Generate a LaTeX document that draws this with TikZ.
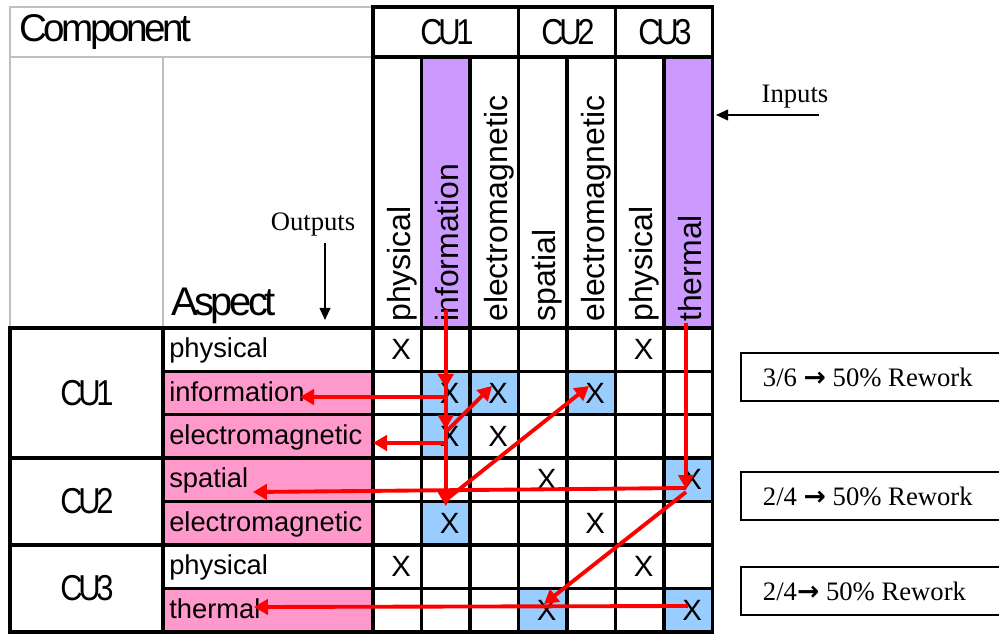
\documentclass[tikz,border=0pt]{standalone}
\usepackage{fontspec}
\setmainfont{Liberation Serif}
\newfontfamily\labelfont{Liberation Sans}
\newfontfamily\tightfont{Liberation Sans}[LetterSpace=-9]
\newfontfamily\cufont{Liberation Sans}[FakeStretch=0.86,LetterSpace=-12]
\newfontfamily\arrowfont{DejaVu Sans}
\usetikzlibrary{arrows.meta}
\definecolor{pinkcell}{HTML}{FF99CC}
\definecolor{bluecell}{HTML}{99CCFF}
\definecolor{purplecell}{HTML}{CC99FF}
\definecolor{gridgray}{HTML}{C0C0C0}
\definecolor{flowred}{HTML}{FF0000}

\begin{document}
\begin{tikzpicture}[x=0.75pt,y=-0.75pt,
  gridline/.style={line width=2.3pt, line cap=rect},
  blockline/.style={line width=2.9pt, line cap=rect},
  grayline/.style={line width=1.6pt, draw=gridgray},
  flow/.style={draw=flowred, line width=2.9pt, -{Triangle[length=10.5pt,width=11.5pt]}},
  pointer/.style={draw=black, line width=1.4pt, -{Triangle[length=9pt,width=8pt]}},
  xmark/.style={font=\labelfont\fontsize{22}{22}\selectfont, inner sep=0pt},
  rowlabel/.style={font=\labelfont\fontsize{20.5}{22}\selectfont, anchor=base west, inner sep=0pt},
  collabel/.style={font=\labelfont\fontsize{24}{26}\selectfont, rotate=90, anchor=base west, inner sep=0pt},
  cutitle/.style={font=\cufont\fontsize{27}{28}\selectfont, inner sep=0pt},
  note/.style={font=\fontsize{20}{22}\selectfont, inner sep=0pt},
  reworkbox/.style={draw, line width=1.5pt, minimum width=205pt, minimum height=36pt, anchor=north west, inner sep=0pt},
]
\useasboundingbox (0,0) rectangle (999,634);

% ---- cell fills ----
\fill[purplecell] (421.5,57) rectangle (470,328);
\fill[purplecell] (664,57) rectangle (712.5,328);
\foreach \r in {2,3,4,5,7}
  \fill[pinkcell] (163,{328+43.4*(\r-1)}) rectangle (373,{328+43.4*\r});
\foreach \c/\r in {2/2,3/2,5/2,2/3,7/4,2/5,4/7,7/7}
  \fill[bluecell] ({373+48.5*(\c-1)},{328+43.4*(\r-1)}) rectangle ({373+48.5*\c},{328+43.4*\r});

% ---- light header grid ----
\draw[grayline] (373,7) -- (10,7) -- (10,328);
\draw[grayline] (10,57) -- (373,57);
\draw[grayline] (163,57) -- (163,328);

% ---- matrix grid ----
\draw[blockline] (373,7) -- (712.5,7);
\draw[gridline] (373,57) -- (712.5,57);
\foreach \x in {373,518.5,615.5,712.5}
  \draw[blockline] (\x,7) -- (\x,632);
\foreach \k in {1,2,4,6}
  \draw[gridline] ({373+48.5*\k},57) -- ({373+48.5*\k},632);
\draw[blockline] (10,328) -- (712.5,328);
\foreach \r in {1,2,4,6}
  \draw[gridline] (163,{328+43.4*\r}) -- (712.5,{328+43.4*\r});
\foreach \r in {3,5,7}
  \draw[blockline] (10,{328+43.4*\r}) -- (712.5,{328+43.4*\r});
\draw[blockline] (10,328) -- (10,632);
\draw[blockline] (163,328) -- (163,632);

% ---- titles ----
\node[font=\tightfont\fontsize{29}{30}\selectfont, anchor=west, inner sep=0pt] (comp) at (19,32) {Component};
\node[font=\tightfont\fontsize{30}{31}\selectfont, anchor=base west, inner sep=0pt] (aspect) at (171,316) {Aspect};
\node[cutitle] (hcu1) at (447,32) {CU1};
\node[cutitle] (hcu2) at (568,32) {CU2};
\node[cutitle] (hcu3) at (665,32) {CU3};
\node[cutitle] (rcu1) at (87,393) {CU1};
\node[cutitle] (rcu2) at (87,501) {CU2};
\node[cutitle] (rcu3) at (87,588) {CU3};

% ---- column aspects (inputs) ----
\foreach \c/\t in {1/physical,2/information,3/electromagnetic,4/spatial,5/electromagnetic,6/physical,7/thermal}
  \node[collabel] (col\c) at ({397.25+48.5*(\c-1)+13},322) {\t};

% ---- row aspects (outputs) ----
\foreach \r/\t in {1/physical,2/information,3/electromagnetic,4/spatial,5/electromagnetic,6/physical,7/thermal}
  \node[rowlabel] (row\r) at (169,{349.7+43.4*(\r-1)+8}) {\t};

% ---- dependency marks ----
\foreach \c/\r in {1/1,6/1,2/2,3/2,5/2,2/3,3/3,4/4,7/4,2/5,5/5,1/6,6/6,4/7,7/7}
  \node[xmark] (x\c\r) at ({397.25+48.5*(\c-1)+4},{349.7+43.4*(\r-1)}) {X};

% ---- flow anchor points ----
\coordinate (infoTop) at (445.75,310);
\coordinate (infoA) at (445.75,388);
\coordinate (infoB) at (445.75,429);
\coordinate (infoC) at (445.75,506);
\coordinate (infoOut) at (445.75,397);
\coordinate (infoLbl) at (300,397);
\coordinate (emOut) at (445.75,443);
\coordinate (emLbl) at (373,443);
\coordinate (emStart) at (445.75,432);
\coordinate (emHit) at (492,386);
\coordinate (em2Start) at (445.75,500);
\coordinate (em2Hit) at (589,386);
\coordinate (thermTop) at (686,323);
\coordinate (thermA) at (686,489);
\coordinate (spatOut) at (686,488);
\coordinate (spatLbl) at (253,492);
\coordinate (spatStart) at (686,492);
\coordinate (spatHit) at (544,604);
\coordinate (thOut) at (688,606);
\coordinate (thLbl) at (254,607);

% ---- red flows ----
\draw[flow] (infoTop) -- (infoA);
\draw[flow] (infoTop) -- (infoB);
\draw[flow] (infoTop) -- (infoC);
\draw[flow] (infoOut) -- (infoLbl);
\draw[flow] (emOut) -- (emLbl);
\draw[flow] (emStart) -- (emHit);
\draw[flow] (em2Start) -- (em2Hit);
\draw[flow] (thermTop) -- (thermA);
\draw[flow] (spatOut) -- (spatLbl);
\draw[flow] (spatStart) -- (spatHit);
\draw[flow] (thOut) -- (thLbl);

% ---- inputs / outputs annotations ----
\node[note] (inputs) at (795,97) {Inputs};
\coordinate (inTail) at (819,115);
\coordinate (inTip) at (716,115);
\draw[pointer] (inTail) -- (inTip);
\node[note] (outputs) at (313,225) {Outputs};
\coordinate (outTail) at (325,243);
\coordinate (outTip) at (325,320);
\draw[pointer] (outTail) -- (outTip);

% ---- rework summaries ----
\node[reworkbox] (rw1) at (740,352) {};
\node[reworkbox] (rw2) at (740,471) {};
\node[reworkbox] (rw3) at (740,566) {};
\node[note, anchor=west] (rw1t) at ([xshift=17pt]rw1.west) {3/6 {\arrowfont\bfseries →} 50\% Rework};
\node[note, anchor=west] (rw2t) at ([xshift=17pt]rw2.west) {2/4 {\arrowfont\bfseries →} 50\% Rework};
\node[note, anchor=west] (rw3t) at ([xshift=17pt]rw3.west) {2/4{\arrowfont\bfseries →} 50\% Rework};
\end{tikzpicture}
\end{document}
